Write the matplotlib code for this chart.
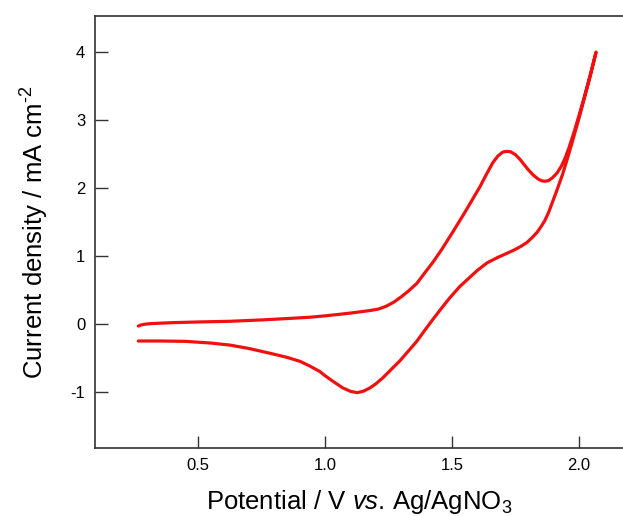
import numpy as np
import matplotlib
matplotlib.use("Agg")
import matplotlib.pyplot as plt

plt.rcParams['font.family'] = ['Liberation Sans', 'DejaVu Sans']
plt.rcParams['axes.unicode_minus'] = False
plt.rcParams['mathtext.fontset'] = 'custom'
plt.rcParams['mathtext.rm'] = 'Liberation Sans'
plt.rcParams['mathtext.it'] = 'Liberation Sans:italic'

# forward scan (upper branch), potential in V, current density in mA cm-2
E_fwd = [0.265, 0.275, 0.29, 0.311, 0.35, 0.4, 0.5, 0.626, 0.75, 0.85, 0.941,
         1.0, 1.05, 1.098, 1.14, 1.18, 1.21, 1.24, 1.27, 1.30, 1.33, 1.362,
         1.39, 1.425, 1.46, 1.504, 1.55, 1.58, 1.61, 1.635, 1.66, 1.68, 1.70,
         1.716, 1.73, 1.75, 1.768, 1.785, 1.80, 1.82, 1.84, 1.855, 1.866,
         1.88, 1.895, 1.913, 1.93, 1.945, 1.96, 1.98, 2.0, 2.02, 2.045, 2.067]
I_fwd = [-0.03, -0.015, -0.003, 0.005, 0.012, 0.02, 0.03, 0.04, 0.06, 0.08, 0.10,
         0.12, 0.14, 0.16, 0.18, 0.20, 0.22, 0.26, 0.32, 0.40, 0.49, 0.60,
         0.74, 0.91, 1.10, 1.36, 1.64, 1.83, 2.02, 2.20, 2.37, 2.47, 2.53,
         2.54, 2.535, 2.49, 2.42, 2.34, 2.27, 2.19, 2.13, 2.105, 2.10,
         2.11, 2.15, 2.22, 2.32, 2.44, 2.59, 2.82, 3.07, 3.33, 3.68, 4.0]

# reverse scan (lower branch)
E_rev = [2.067, 2.045, 2.02, 2.0, 1.975, 1.953, 1.935, 1.913, 1.895, 1.88, 1.865,
         1.85, 1.835, 1.815, 1.795, 1.77, 1.745, 1.716, 1.68, 1.638, 1.60, 1.565,
         1.53, 1.49, 1.46, 1.425, 1.395, 1.362, 1.33, 1.295, 1.26, 1.228, 1.20,
         1.177, 1.15, 1.126, 1.10, 1.07, 1.05, 1.03, 1.00, 0.98, 0.941, 0.902,
         0.85, 0.783, 0.70, 0.626, 0.55, 0.45, 0.35, 0.265]
I_rev = [4.0, 3.66, 3.31, 3.03, 2.70, 2.42, 2.20, 1.97, 1.79, 1.64, 1.52,
         1.43, 1.35, 1.27, 1.20, 1.14, 1.09, 1.04, 0.98, 0.90, 0.79, 0.67,
         0.55, 0.38, 0.24, 0.07, -0.08, -0.25, -0.39, -0.54, -0.67, -0.79, -0.88,
         -0.94, -0.99, -1.01, -0.99, -0.94, -0.89, -0.84, -0.76, -0.70, -0.62, -0.55,
         -0.49, -0.43, -0.36, -0.31, -0.28, -0.255, -0.25, -0.25]

xticks = [0.5, 1.0, 1.5, 2.0]
yticks = [-1, 0, 1, 2, 3, 4]

fig = plt.figure(figsize=(6.23, 5.16), dpi=100)
ax = fig.add_axes([0.1525, 0.1318, 0.8475, 0.837])

ax.plot(E_fwd + E_rev, I_fwd + I_rev, color='#f01010', lw=2.3,
        solid_joinstyle='round', solid_capstyle='round')

ax.set_xlim(0.0945, 2.173)
ax.set_ylim(-1.824, 4.53)
ax.set_xticks(xticks)
ax.set_xticklabels(['%.1f' % v for v in xticks])
ax.set_yticks(yticks)
ax.set_yticklabels([str(v) for v in yticks])

ax.tick_params(direction='in', length=9, width=1, color='#333333',
               labelsize=12, pad=7)
ax.spines['right'].set_visible(False)
for s in ['left', 'bottom', 'top']:
    ax.spines[s].set_color('#333333')
    ax.spines[s].set_linewidth(1.2)

ax.set_xlabel('Potential / V $\\it{vs}$. Ag/AgNO$_3$', fontsize=18.5, labelpad=11)
ax.set_ylabel('Current density / mA cm$^{\u20102}$', fontsize=18.5, labelpad=14)

fig.savefig('out.png', dpi=100)
